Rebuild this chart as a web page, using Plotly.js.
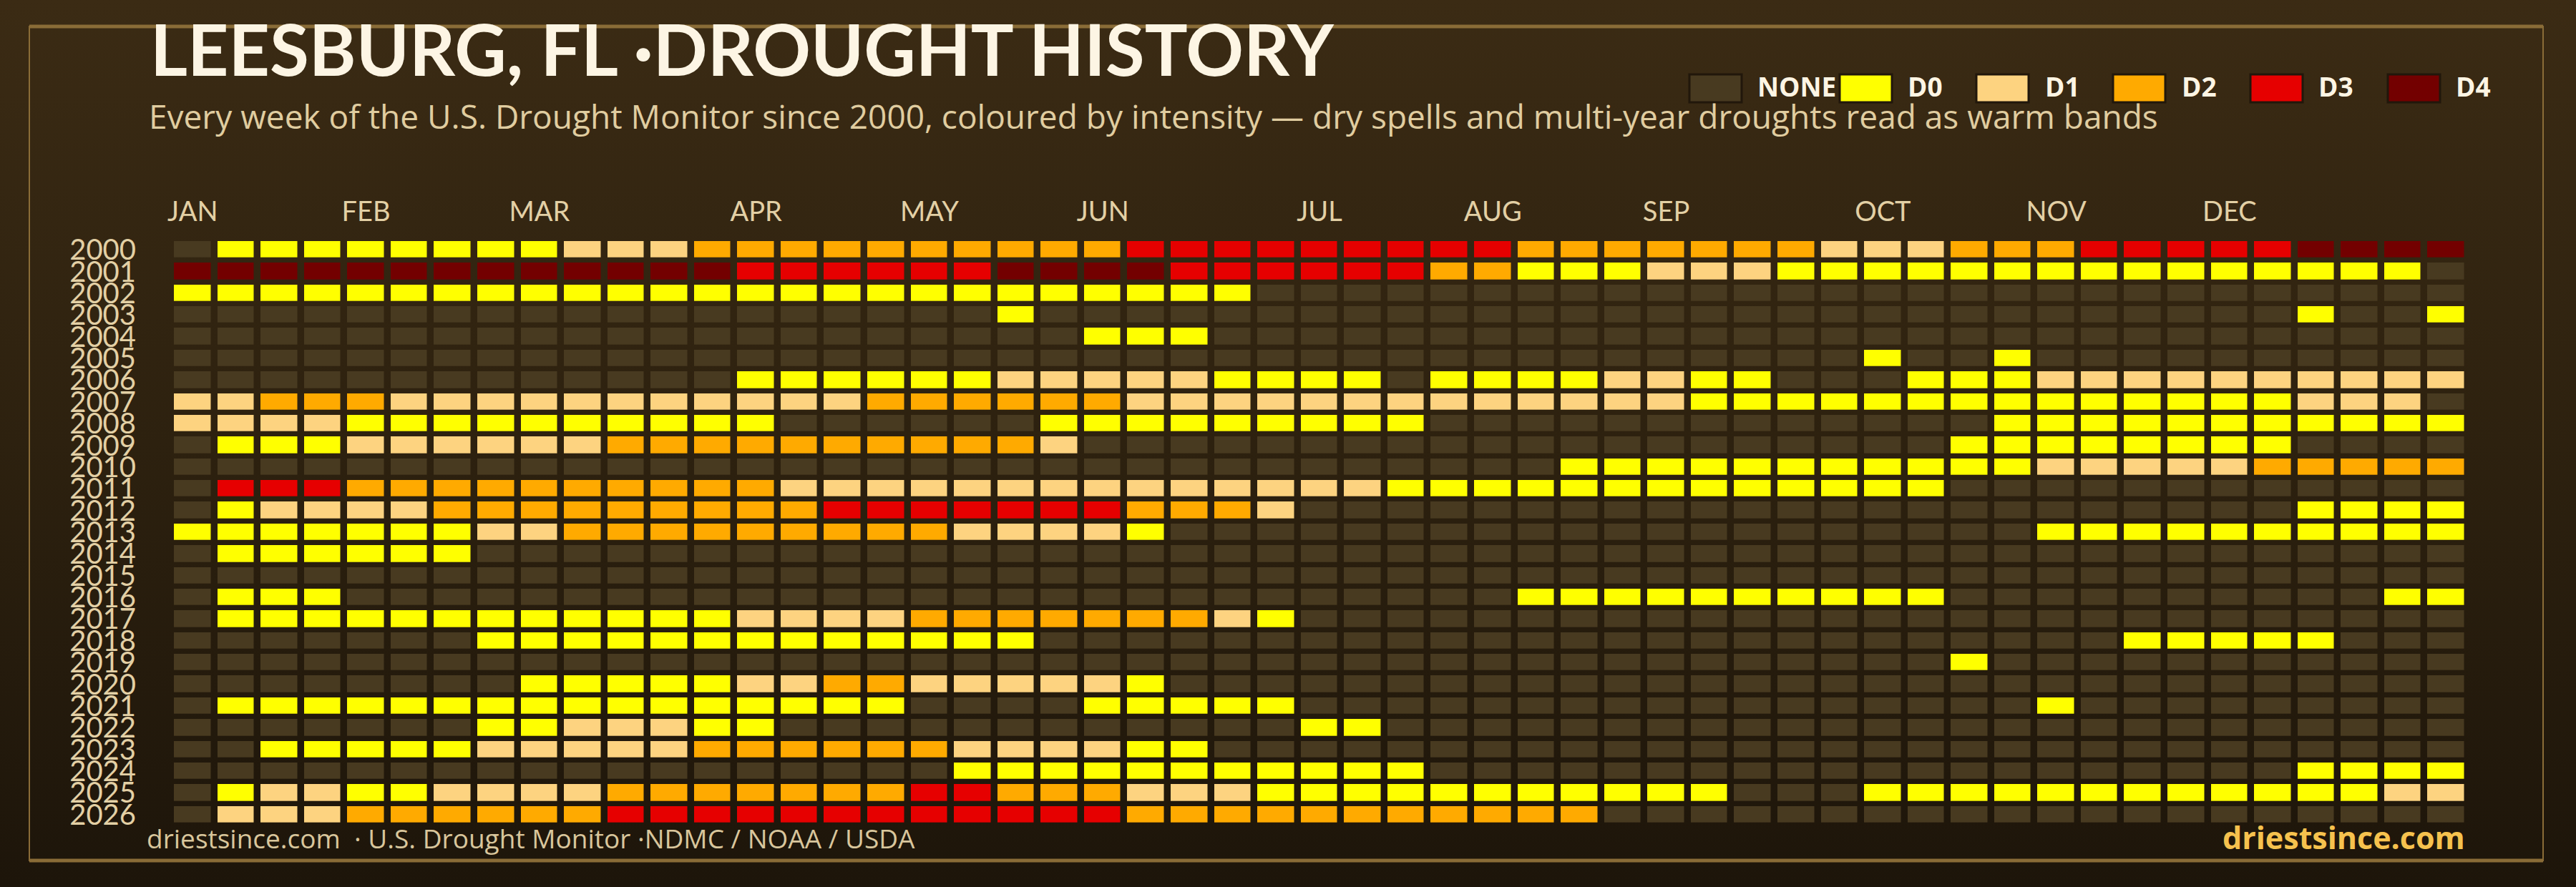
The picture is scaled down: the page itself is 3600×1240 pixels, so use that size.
<!DOCTYPE html>
<html><head><meta charset="utf-8">
<script src="https://cdn.plot.ly/plotly-3.0.1.min.js"></script>
<style>
html,body{margin:0;padding:0;background:#1c1409;}
#chart{width:3600px;height:1240px;background:linear-gradient(to bottom,#3b2b14 0%,#2d210f 50%,#1d150a 100%);}
</style></head><body><div id="chart"></div>
<script>
// ---- data ----
const years = ["2000","2001","2002","2003","2004","2005","2006","2007","2008","2009","2010","2011","2012","2013","2014","2015","2016","2017","2018","2019","2020","2021","2022","2023","2024","2025","2026"];
const monthLabels = ["JAN","FEB","MAR","APR","MAY","JUN","JUL","AUG","SEP","OCT","NOV","DEC"];
const monthWeeks = [0,4,8,13,17,21,26,30,34,39,43,47];
const levelNames = ["NONE","D0","D1","D2","D3","D4"];
const levelColors = ["#483a20","#ffff00","#fdd380","#ffaa00","#e60000","#730000"];
// weekly category per year, 53 weeks, split in three column blocks
// '-' = none, 0..4 = D0..D4
const weeklyLevels = {
"2000":["-00000000111222222","222233333333322222","22111222333334444"],
"2001":["444444444444433333","344443333332200011","1000000000000000-"],
"2002":["000000000000000000","0000000-----------","-----------------"],
"2003":["------------------","-0----------------","-------------0--0"],
"2004":["------------------","---000------------","-----------------"],
"2005":["------------------","------------------","---0--0----------"],
"2006":["-------------00000","0111110000-0000110","0---0001111111111"],
"2007":["112221111111111122","222211111111111110","0000000000000111-"],
"2008":["11110000000000----","--000000000-------","------00000000000"],
"2009":["-00011111122222222","221---------------","-----00000000----"],
"2010":["------------------","--------------0000","00000001111122222"],
"2011":["-33322222222221111","111111111100000000","00000------------"],
"2012":["-01111222222222333","33332221----------","-------------0000"],
"2013":["000000011222222222","11110-------------","-------0000000000"],
"2014":["-000000-----------","------------------","-----------------"],
"2015":["------------------","------------------","-----------------"],
"2016":["-000--------------","-------------00000","00000----------00"],
"2017":["-00000000000011112","22222210----------","-----------------"],
"2018":["-------00000000000","00----------------","---------00000---"],
"2019":["------------------","------------------","-----0-----------"],
"2020":["--------0000011221","11110-------------","-----------------"],
"2021":["-0000000000000000-","---00000----------","-------0---------"],
"2022":["-------0011100----","--------00--------","-----------------"],
"2023":["--0000011111222222","111100------------","-----------------"],
"2024":["------------------","00000000000-------","-------------0000"],
"2025":["-01100111122222223","322211100000000000","---00000000000011"],
"2026":["-11122222233333333","333322222222222---","-----------------"]
};
</script>
<script>
const W = 3600, H = 1240, L = 239, R = 151, T = 334, B = 86;
const pw = W - L - R, ph = H - T - B;
const px = x => (x - L) / pw;
const py = y => (H - B - y) / ph;

const weeks = [];
for (let i = 0; i < 53; i++) weeks.push(i);

const z = years.map(y => {
  const s = weeklyLevels[y].join("");
  const row = [];
  for (let i = 0; i < 53; i++) {
    const c = s[i];
    row.push(c === "-" || c === undefined ? 0 : parseInt(c, 10) + 1);
  }
  return row;
});

const n = levelColors.length;
const colorscale = [];
levelColors.forEach((c, i) => {
  colorscale.push([i / n, c]);
  colorscale.push([(i + 1) / n, c]);
});

const FONT = "Lato, 'Open Sans', sans-serif";
const FONT2 = "'Open Sans', Lato, sans-serif";
const cream = "#fdf5e4", tan = "#e3d0a5";

const trace = {
  type: "heatmap", x: weeks, y: years, z: z,
  zmin: -0.5, zmax: n - 0.5, colorscale: colorscale, showscale: false,
  xgap: 9.5, ygap: 7.3, hoverinfo: "skip"
};

const shapes = [], annotations = [];
// frame
const gold = "#8a6c37";
shapes.push({type:"rect", xref:"paper", yref:"paper", x0:px(41), x1:px(3554), y0:py(37), y1:py(1203), line:{color:gold, width:2}, layer:"below"});
shapes.push({type:"line", xref:"paper", yref:"paper", x0:px(41), x1:px(3554), y0:py(37), y1:py(37), line:{color:gold, width:5}, layer:"below"});
shapes.push({type:"line", xref:"paper", yref:"paper", x0:px(41), x1:px(3554), y0:py(1203), y1:py(1203), line:{color:gold, width:5}});

// legend
const swX = [2361, 2571, 2762, 2953, 3145, 3337];
const lbX = [2456, 2666, 2858, 3049, 3240, 3432];
levelNames.forEach((name, i) => {
  shapes.push({type:"rect", xref:"paper", yref:"paper", x0:px(swX[i]), x1:px(swX[i] + 73), y0:py(104), y1:py(143),
    fillcolor: levelColors[i], line:{color:"#21170b", width:3}});
  annotations.push({xref:"paper", yref:"paper", x:px(lbX[i] - 2), y:py(120), xanchor:"left", yanchor:"middle",
    text:name, showarrow:false, font:{family:FONT2, size:37, color:cream, weight:700}});
});

annotations.push({xref:"paper", yref:"paper", x:px(206), y:py(162), xanchor:"left", yanchor:"middle", showarrow:false,
  text:"Every week of the U.S. Drought Monitor since 2000, coloured by intensity — dry spells and multi-year droughts read as warm bands",
  font:{family:FONT2, size:46, color:"#e0cda0"}});
annotations.push({xref:"paper", yref:"paper", x:px(203), y:py(1171), xanchor:"left", yanchor:"middle", showarrow:false,
  text:"driestsince.com  · U.S. Drought Monitor ·NDMC / NOAA / USDA",
  font:{family:FONT2, size:37, color:"#d9c69c"}});
annotations.push({xref:"paper", yref:"paper", x:px(3447), y:py(1170), xanchor:"right", yanchor:"middle", showarrow:false,
  text:"driestsince.com", font:{family:FONT2, size:43, color:"#f6c24e", weight:700}});

const layout = {
  width: W, height: H,
  margin: {l:L, r:R, t:T, b:B, pad:0},
  paper_bgcolor: "rgba(0,0,0,0)", plot_bgcolor: "rgba(0,0,0,0)",
  font: {family: FONT, color: tan},
  title: {text:"LEESBURG, FL ·DROUGHT HISTORY", xref:"container", yref:"container",
    x: 210 / W, xanchor:"left", y: 1 - 36 / H, yanchor:"top",
    font:{family:FONT, size:100, color:cream, weight:700}},
  xaxis: {side:"top", range:[-0.5, 52.5], tickmode:"array", tickvals:monthWeeks, ticktext:monthLabels,
    showgrid:false, zeroline:false, showline:false, ticks:"", fixedrange:true,
    tickfont:{family:FONT, size:38, color:tan}, ticklabelstandoff: 16},
  yaxis: {type:"category", autorange:"reversed", tickmode:"array", tickvals:years, ticktext:years,
    showgrid:false, zeroline:false, showline:false, ticks:"outside", ticklen:40, tickcolor:"rgba(0,0,0,0)",
    fixedrange:true, tickfont:{family:FONT, size:40, color:tan}},
  shapes: shapes, annotations: annotations, showlegend:false
};

Plotly.newPlot("chart", [trace], layout, {displayModeBar:false, staticPlot:true});
</script>
</body></html>
